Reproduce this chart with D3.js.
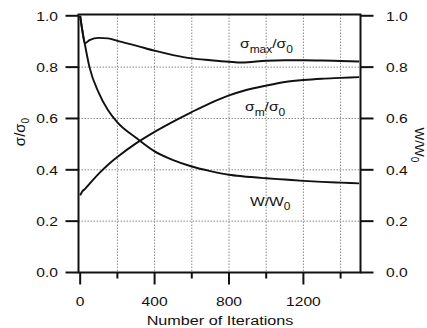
<!DOCTYPE html>
<html><head><meta charset="utf-8">
<script src="https://cdn.jsdelivr.net/npm/d3@7"></script>
<style>
html,body{margin:0;padding:0;background:#fff;}
svg{display:block;}
text{font-family:"Liberation Sans",Arial,Helvetica,sans-serif;fill:#111;}
</style></head>
<body>
<svg id="c" width="427" height="328"></svg>
<script>
// ---- data ----
const iterations = [0, 10, 25, 50, 100, 150, 200, 300, 400, 500, 600, 700, 800, 870, 1000, 1100, 1200, 1300, 1400, 1500];
const sigmaMax   = [1.0, 0.95, 0.893, 0.905, 0.914, 0.912, 0.902, 0.884, 0.864, 0.847, 0.834, 0.827, 0.821, 0.818, 0.825, 0.827, 0.827, 0.826, 0.824, 0.822];
const sigmaM     = [0.30, 0.315, 0.325, 0.345, 0.385, 0.42, 0.45, 0.503, 0.548, 0.588, 0.625, 0.66, 0.69, 0.706, 0.728, 0.742, 0.75, 0.755, 0.758, 0.761];
const wRatio     = [1.0, 0.95, 0.89, 0.80, 0.70, 0.632, 0.585, 0.525, 0.472, 0.438, 0.413, 0.395, 0.381, 0.375, 0.367, 0.362, 0.357, 0.353, 0.350, 0.347];
const xMajorTicks = [0, 400, 800, 1200];
const xMinorTicks = [200, 600, 1000, 1400];
const yTicks = [0.0, 0.2, 0.4, 0.6, 0.8, 1.0];
const xGrid = [200, 400, 600, 800, 1000, 1200, 1400];
const yGrid = [0.2, 0.4, 0.6, 0.8];

// ---- layout ----
const L = 78.5, R = 360.5, T = 14.5, B = 272.5;
const SX = 1.2; // horizontal stretch of glyphs in the reference
const svg = d3.select("#c");
const x = d3.scaleLinear().domain([-9, 1507]).range([L, R]);
const y = d3.scaleLinear().domain([0, 1.005]).range([B, T]);

// grid
const g = svg.append("g");
g.selectAll(".vg").data(xGrid).join("line")
  .attr("x1", d => x(d)).attr("x2", d => x(d)).attr("y1", T).attr("y2", B)
  .attr("stroke", "#8a8a8a").attr("stroke-width", 1).attr("stroke-dasharray", "1.5,1.5");
g.selectAll(".hg").data(yGrid).join("line")
  .attr("y1", d => y(d)).attr("y2", d => y(d)).attr("x1", L).attr("x2", R)
  .attr("stroke", "#8a8a8a").attr("stroke-width", 1).attr("stroke-dasharray", "1.5,1.5");

// curves
const line = (vals) => d3.line().x((d, i) => x(iterations[i])).y(d => y(d)).curve(d3.curveMonotoneX)(vals);
[sigmaMax, sigmaM, wRatio].forEach(s => {
  svg.append("path").attr("d", line(s)).attr("fill", "none").attr("stroke", "#111").attr("stroke-width", 1.9);
});

// frame
svg.append("rect").attr("x", L).attr("y", T).attr("width", R - L).attr("height", B - T)
  .attr("fill", "none").attr("stroke", "#111").attr("stroke-width", 2);

// ticks
const tk = svg.append("g").attr("stroke", "#111").attr("stroke-width", 2);
yTicks.forEach(v => {
  tk.append("line").attr("x1", L - 13).attr("x2", L).attr("y1", y(v)).attr("y2", y(v));
  tk.append("line").attr("x1", R).attr("x2", R + 13).attr("y1", y(v)).attr("y2", y(v));
});
xMajorTicks.forEach(v => tk.append("line").attr("x1", x(v)).attr("x2", x(v)).attr("y1", B).attr("y2", B + 12));
xMinorTicks.forEach(v => tk.append("line").attr("x1", x(v)).attr("x2", x(v)).attr("y1", B).attr("y2", B + 6));

function txt(px, py, str, anchor, size) {
  return svg.append("text").attr("transform", `translate(${px},${py}) scale(${SX},1)`)
    .attr("text-anchor", anchor).attr("font-size", size).text(str);
}
const fmt = d3.format(".1f");
yTicks.forEach(v => {
  txt(58, y(v) + 4.8, fmt(v), "end", 13);
  txt(386, y(v) + 4.8, fmt(v), "start", 13);
});
xMajorTicks.forEach(v => txt(x(v), 306, String(v), "middle", 13));
txt(220, 325, "Number of Iterations", "middle", 13.5);

// in-plot labels
function ratioLabel(px, py, main, sub, main2, sub2, subDy) {
  const t = svg.append("text").attr("transform", `translate(${px},${py}) scale(${SX},1)`).attr("font-size", 13);
  t.append("tspan").text(main);
  if (sub) {
    t.append("tspan").attr("font-size", 10).attr("dy", subDy).text(sub);
    t.append("tspan").attr("dy", -subDy).text(main2);
  } else {
    t.append("tspan").text(main2);
  }
  t.append("tspan").attr("font-size", 10).attr("dy", subDy).text(sub2);
  return t;
}
ratioLabel(240, 48, "σ", "max", "/σ", "0", 5);
ratioLabel(245, 111, "σ", "m", "/σ", "0", 5);
ratioLabel(250, 205.5, "W", "", "/W", "0", 4);

// axis titles
const yl = svg.append("text").attr("transform", "translate(25,132) rotate(-90)").attr("text-anchor", "middle").attr("font-size", 15);
yl.append("tspan").text("σ/σ");
yl.append("tspan").attr("font-size", 10).attr("dy", 4).text("0");
const yr = svg.append("text").attr("transform", "translate(415,145) rotate(90)").attr("text-anchor", "middle").attr("font-size", 13.5);
yr.append("tspan").text("W/W");
yr.append("tspan").attr("font-size", 10).attr("dy", 4).text("0");
</script>
</body></html>
